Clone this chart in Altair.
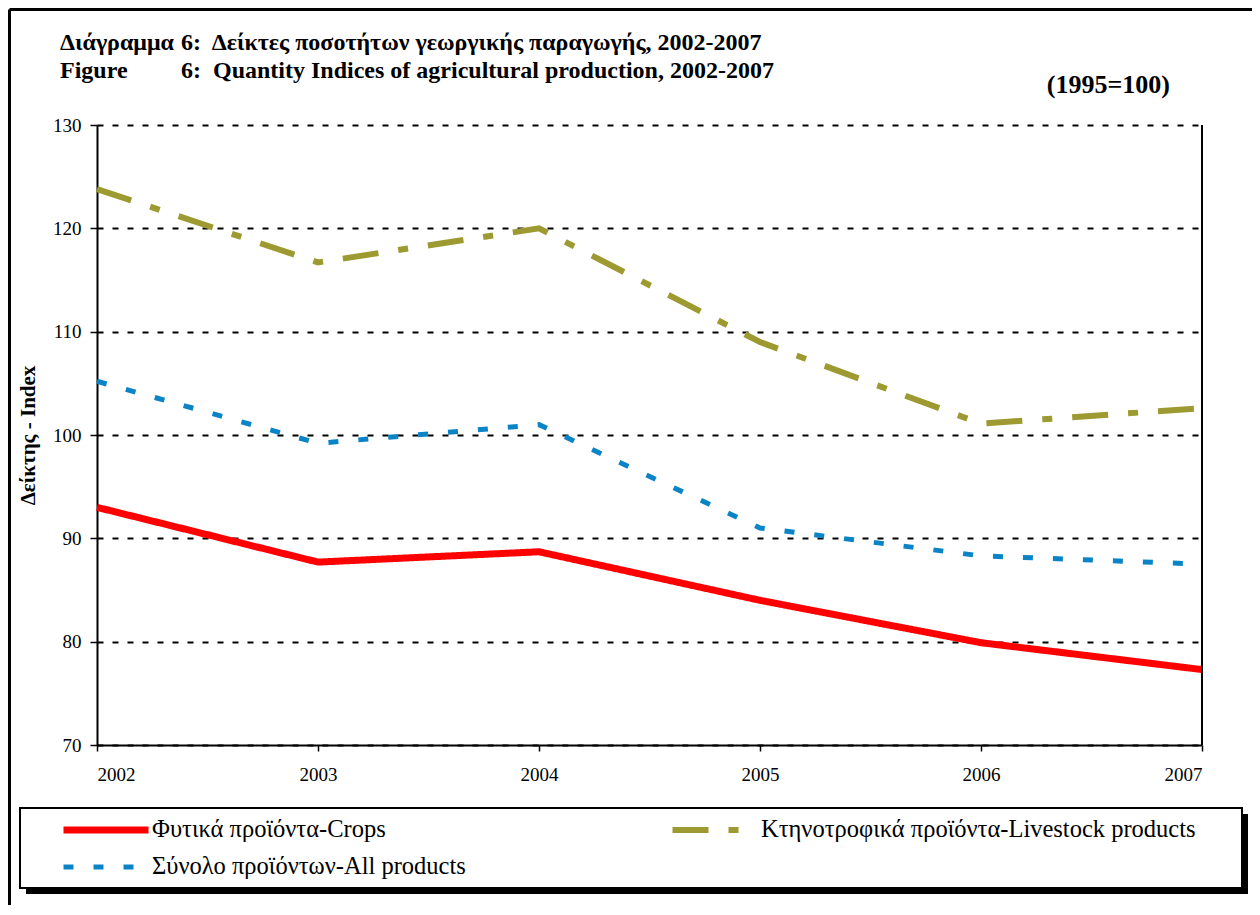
import altair as alt
import pandas as pd

years = [2002, 2003, 2004, 2005, 2006, 2007]
crops = [93.0, 87.7, 88.7, 84.0, 79.9, 77.3]
livestock = [123.8, 116.7, 120.0, 109.0, 101.1, 102.6]
all_products = [105.2, 99.2, 101.0, 91.0, 88.3, 87.5]

series_names = [
    "Φυτικά προϊόντα-Crops",
    "Κτηνοτροφικά προϊόντα-Livestock products",
    "Σύνολο προϊόντων-All products",
]
series_colors = ["#FF0000", "#9C9A30", "#0A84C6"]
series_dash = [[1, 0], [36, 20, 10, 20], [10, 20]]
series_width = [7, 5, 5]

NB = "\u00a0"
title_gr_a = "Διάγραμμα"
title_gr_b = "6:" + NB + " Δείκτες ποσοτήτων γεωργικής παραγωγής, 2002-2007"
title_en_a = "Figure"
title_en_b = "6:" + NB + " Quantity Indices of agricultural production, 2002-2007"
base_note = "(1995=100)"
y_title = "Δείκτης - Index"
y_ticks = [70, 80, 90, 100, 110, 120, 130]

rows = []
for name, vals in zip(series_names, [crops, livestock, all_products]):
    for yr, v in zip(years, vals):
        rows.append({"year": yr, "value": v, "series": name})
df = pd.DataFrame(rows)

W, H = 1105, 620
SERIF = "Liberation Serif, DejaVu Serif, serif"

def make_legend():
    return alt.Legend(orient="none", legendX=-37, legendY=693, columns=2,
                      direction="horizontal", title=None)

lines = alt.Chart(df).mark_line(strokeCap="butt", strokeJoin="miter").encode(
    x=alt.X("year:Q", scale=alt.Scale(domain=[2002, 2007], nice=False, zero=False),
            axis=alt.Axis(values=years, format="d", title=None, grid=False,
                          tickSize=6, labelPadding=14)),
    y=alt.Y("value:Q", scale=alt.Scale(domain=[70, 130], nice=False, zero=False),
            axis=alt.Axis(values=y_ticks, title=y_title, grid=True, tickSize=7,
                          labelPadding=9, titlePadding=14)),
    color=alt.Color("series:N", scale=alt.Scale(domain=series_names, range=series_colors),
                    legend=make_legend()),
    strokeDash=alt.StrokeDash("series:N", scale=alt.Scale(domain=series_names, range=series_dash),
                              legend=make_legend()),
    strokeWidth=alt.StrokeWidth("series:N", scale=alt.Scale(domain=series_names, range=series_width),
                                legend=make_legend()),
)

one = pd.DataFrame({"k": [0]})

def label(text, x, y, size, align="left", weight="bold"):
    return alt.Chart(one).mark_text(text=text, font=SERIF, fontSize=size, fontWeight=weight,
                                    align=align, baseline="alphabetic", color="black").encode(
        x=alt.value(x), y=alt.value(y))

def box(x, x2, y, y2, fill, stroke=None, sw=0):
    kw = dict(fill=fill)
    if stroke:
        kw.update(stroke=stroke, strokeWidth=sw)
    return alt.Chart(one).mark_rect(**kw).encode(
        x=alt.value(x), x2=alt.value(x2), y=alt.value(y), y2=alt.value(y2))

right_border = alt.Chart(one).mark_rule(color="black", strokeWidth=2).encode(
    x=alt.value(W), y=alt.value(0), y2=alt.value(H))
frame_top = alt.Chart(one).mark_rule(color="black", strokeWidth=3).encode(
    x=alt.value(-87.5), x2=alt.value(1160), y=alt.value(-115.5))
frame_left = alt.Chart(one).mark_rule(color="black", strokeWidth=3).encode(
    x=alt.value(-87.5), y=alt.value(-115.5), y2=alt.value(800))

legend_shadow = box(-71, 1151, 689, 769, "black")
legend_box = box(-77, 1145, 683, 763, "white", "black", 2)

chart = alt.layer(
    legend_shadow, legend_box, lines, right_border, frame_top, frame_left,
    label(title_gr_a, -37, -75, 24), label(title_gr_b, 84, -75, 24),
    label(title_en_a, -37, -47, 24), label(title_en_b, 84, -47, 24),
    label(base_note, 1073, -32, 26, align="right"),
).properties(
    width=W, height=H,
    autosize=alt.AutoSizeParams(type="none"),
    padding={"left": 89, "top": 117, "right": 50, "bottom": 160},
).configure_view(stroke=None).configure_axis(
    domainColor="black", domainWidth=2, tickColor="black", tickWidth=1.5,
    labelFont=SERIF, labelFontSize=19, labelColor="black",
    titleFont=SERIF, titleFontSize=21, titleFontWeight="bold", titleColor="black",
    gridColor="black", gridDash=[6, 9], gridWidth=2, gridOpacity=1,
).configure_axisX(labelAngle=0).configure_legend(
    symbolType="stroke", symbolSize=7225, clipHeight=24, labelOffset=0,
    columnPadding=203, rowPadding=12, labelFont=SERIF, labelFontSize=24.5,
    labelColor="black", labelLimit=0, padding=0,
)

chart.save("out.html", embed_options={"renderer": "svg", "actions": False})
